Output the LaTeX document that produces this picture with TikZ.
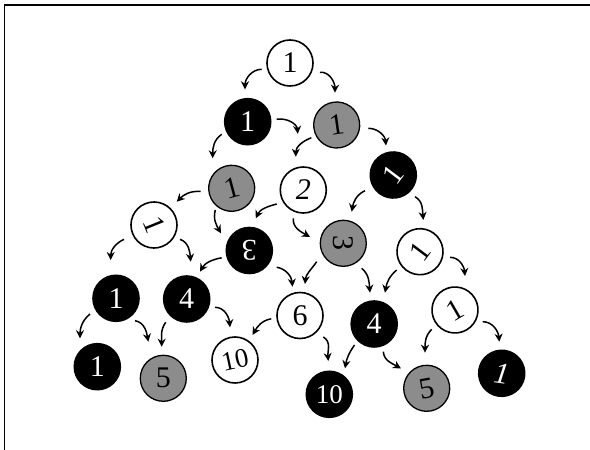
\documentclass[tikz,border=0pt]{standalone}
\usepackage{fontspec}
\setmainfont{Liberation Serif}
\usetikzlibrary{calc,arrows.meta}
\tikzset{
  ball/.style={circle, minimum size=46pt, inner sep=0pt, line width=1.6pt, draw=black, font=\fontsize{30}{30}\selectfont},
  wnode/.style={ball, fill=white, text=black},
  bnode/.style={ball, fill=black, text=white},
  gnode/.style={ball, fill=black!45, text=black, line width=1.3pt},
  twodig/.style={font=\fontsize{27}{27}\selectfont},
  arr/.style={line width=1.5pt, -{Stealth[length=8pt,width=8pt]}},
  frame/.style={line width=1.8pt}
}
\begin{document}
\begin{tikzpicture}[x=1pt,y=1pt]
\useasboundingbox (0,0) rectangle (590,450);
\coordinate (fa) at (4.5,0);
\coordinate (fb) at (4.5,445.3);
\coordinate (fc) at (590,445.3);
\draw[frame] (fa) -- (fb) -- (fc);
% row 0
\node[wnode] (A) at (290,387) {1};
% row 1
\node[bnode] (B1) at (247.7,328.3) {1};
\node[gnode, rotate=8] (B2) at (336.7,325) {1};
% row 2
\node[gnode, rotate=15] (C1) at (231.7,261.7) {1};
\node[wnode, font=\fontsize{30}{30}\selectfont\itshape] (C2) at (303.3,260) {2};
\node[bnode, rotate=53] (C3) at (393.3,275) {1};
% row 3
\node[wnode, rotate=-68] (D1) at (154,225) {1};
\node[bnode, rotate=180] (D2) at (249.3,199.5) {3};
\node[gnode, rotate=-90] (D3) at (343.3,206.7) {3};
\node[wnode, rotate=53] (D4) at (420,198.3) {1};
% row 4
\node[bnode] (E1) at (116,151.7) {1};
\node[bnode] (E2) at (186.7,151) {4};
\node[wnode] (E3) at (300,134.5) {6};
\node[bnode] (E4) at (374.2,126) {4};
\node[wnode, rotate=30] (E5) at (455,140) {1};
% row 5
\node[bnode] (F1) at (97.3,83.3) {1};
\node[gnode] (F2) at (163.3,71.7) {5};
\node[wnode, twodig, rotate=12] (F3) at (235,90) {10};
\node[bnode, twodig] (F4) at (329.3,55.7) {10};
\node[gnode, rotate=10] (F5) at (426.7,61.7) {5};
\node[bnode, rotate=-8, font=\fontsize{30}{30}\selectfont\itshape] (F6) at (501.7,76.7) {1};
% arrows
\draw[arr] ($(A)+(-28.3,-6.3)$) to[out=180,in=90] ($(B1)+(-2.7,32.4)$);
\draw[arr] ($(A)+(30,-9.3)$) to[out=5,in=90] ($(B2)+(-1.7,32.3)$);
\draw[arr] ($(B1)+(-26,-12.6)$) to[out=215,in=90] ($(C1)+(-19,30)$);
\draw[arr] ($(B1)+(29,2.4)$) to[out=10,in=95] ($(C2)+(-5.5,56.2)$);
\draw[arr] ($(B2)+(-25.4,-12.8)$) to[out=200,in=90] ($(C2)+(-7.5,33.3)$);
\draw[arr] ($(B2)+(31.6,-3.3)$) to[out=0,in=95] ($(C3)+(-7.3,29.5)$);
\draw[arr] ($(C1)+(-31,-3.2)$) to[out=175,in=45] ($(D1)+(22.7,23.3)$);
\draw[arr] ($(C1)+(-16.4,-21.7)$) to[out=255,in=120] ($(D2)+(-28.3,17.2)$);
\draw[arr] ($(C2)+(-26.6,-14)$) to[out=195,in=65] ($(D2)+(6.5,32.2)$);
\draw[arr] ($(C2)+(-10,-28.3)$) to[out=265,in=150] ($(D3)+(-33.3,6.3)$);
\draw[arr] ($(C3)+(-28.3,-15.7)$) to[out=205,in=80] ($(D3)+(8.4,31.6)$);
\draw[arr] ($(C3)+(21.7,-21.7)$) to[out=-30,in=95] ($(D4)+(3.3,31.7)$);
\draw[arr] ($(D1)+(-30,-14.3)$) to[out=205,in=90] ($(E1)+(-5.3,38.3)$);
\draw[arr] ($(D1)+(26,-14.3)$) to[out=-20,in=95] ($(E2)+(4,37.3)$);
\draw[arr] ($(D2)+(-27.6,-7.3)$) to[out=190,in=60] ($(E2)+(13.3,27.3)$);
\draw[arr] ($(D2)+(27.4,-16.7)$) to[out=-10,in=95] ($(E3)+(-7.5,28.8)$);
\draw[arr] ($(D3)+(-26.6,-18.4)$) to[out=235,in=85] ($(E3)+(5,31.5)$);
\draw[arr] ($(D3)+(18.4,-25)$) to[out=-40,in=95] ($(E4)+(-4.2,31.3)$);
\draw[arr] ($(D4)+(-23.3,-18.3)$) to[out=220,in=80] ($(E4)+(10.8,31.3)$);
\draw[arr] ($(D4)+(30,-5.6)$) to[out=0,in=95] ($(E5)+(10,34)$);
\draw[arr] ($(E1)+(-26,-15.7)$) to[out=220,in=90] ($(F1)+(-17.3,28.4)$);
\draw[arr] ($(E1)+(19,-22.4)$) to[out=-10,in=100] ($(F2)+(-15,36.6)$);
\draw[arr] ($(E2)+(-21,-23.3)$) to[out=235,in=90] ($(F2)+(-1.6,31.6)$);
\draw[arr] ($(E2)+(28.3,-8.3)$) to[out=0,in=95] ($(F3)+(-5,32.7)$);
\draw[arr] ($(E3)+(-28.8,-3.3)$) to[out=190,in=60] ($(F3)+(17.5,25)$);
\draw[arr] ($(E3)+(23.3,-21.5)$) to[out=-30,in=95] ($(F4)+(-1,33.3)$);
\draw[arr] ($(E4)+(-19.7,-21)$) to[out=235,in=80] ($(F4)+(15.7,26)$);
\draw[arr] ($(E4)+(9.1,-27.7)$) to[out=275,in=150] ($(F5)+(-25.7,19.8)$);
\draw[arr] ($(E5)+(-23.3,-19.3)$) to[out=225,in=90] ($(F5)+(-1.7,35.6)$);
\draw[arr] ($(E5)+(27.7,-11.7)$) to[out=0,in=95] ($(F6)+(-2.4,31.6)$);
\end{tikzpicture}
\end{document}
